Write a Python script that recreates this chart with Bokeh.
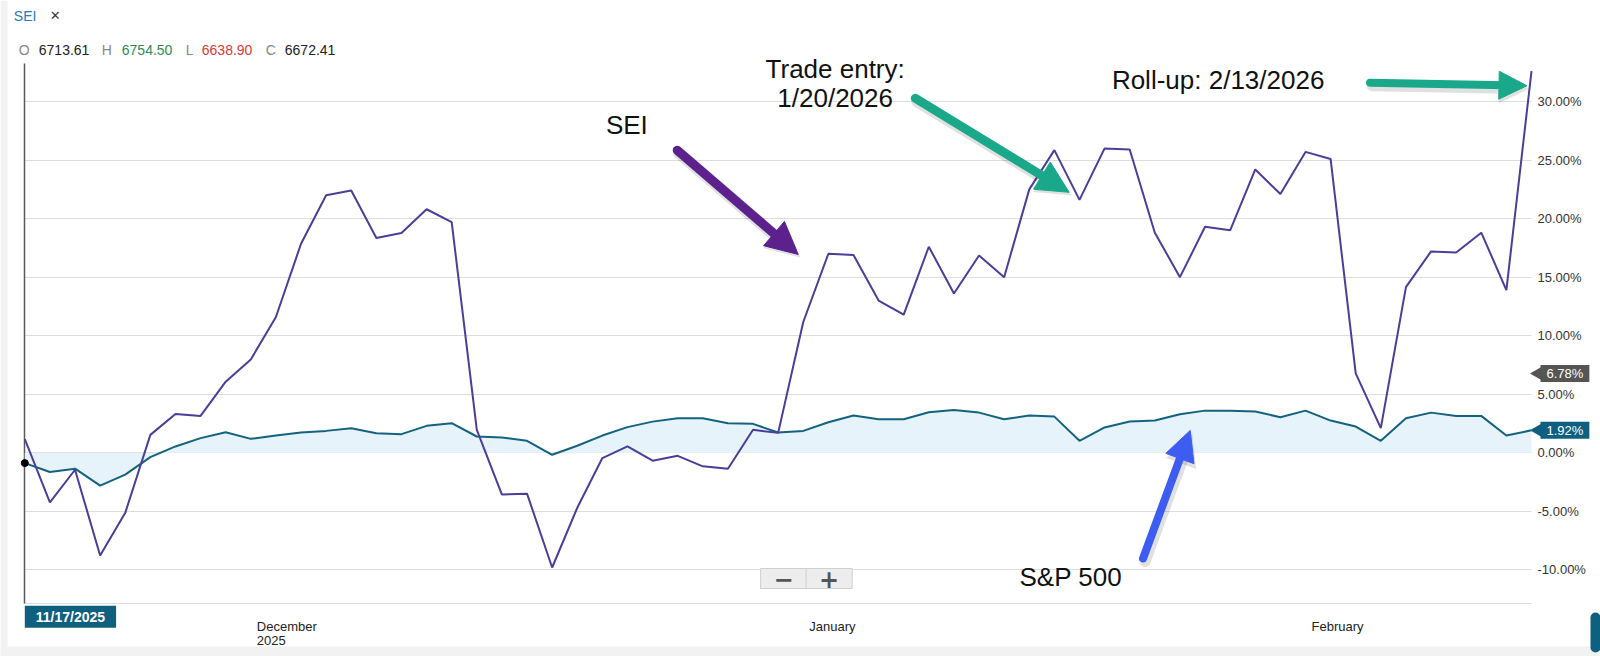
import math
from bokeh.plotting import figure
from bokeh.models import (Range1d, Grid, FixedTicker, Label, Arrow, NormalHead, BoxAnnotation)
from bokeh.embed import file_html
from bokeh.resources import INLINE

# ---------------- data (percent change since 11/17/2025, one value per trading day) -------------
sei = [1.17, -4.23, -1.45, -8.77, -5.13, 1.53, 3.32, 3.15, 6.07, 7.97,
       11.6, 17.85, 22.0, 22.4, 18.35, 18.78, 20.8, 19.7, 1.96, -3.57,
       -3.49, -9.8, -4.7, -0.45, 0.54, -0.68, -0.26, -1.16, -1.36, 1.96,
       1.7, 11.17, 17.0, 16.9, 13.0, 11.8, 17.6, 13.6, 16.85, 15.0,
       22.5, 25.85, 21.6, 26.0, 25.9, 18.8, 15.0, 19.3, 19.0, 24.2,
       22.1, 25.7, 25.1, 6.78, 2.1, 14.15, 17.2, 17.1, 18.8, 13.9,
       32.6]
sp500 = [-0.88, -1.64, -1.36, -2.81, -1.87, -0.37, 0.54, 1.25, 1.76, 1.19,
         1.47, 1.73, 1.87, 2.1, 1.67, 1.59, 2.3, 2.53, 1.39, 1.3,
         1.02, -0.17, 0.6, 1.47, 2.19, 2.66, 2.95, 2.95, 2.53, 2.47,
         1.73, 1.87, 2.61, 3.18, 2.87, 2.87, 3.46, 3.66, 3.43, 2.87,
         3.18, 3.09, 1.02, 2.16, 2.67, 2.75, 3.29, 3.6, 3.6, 3.52,
         3.04, 3.6, 2.75, 2.24, 1.02, 2.95, 3.43, 3.15, 3.15, 1.47,
         1.92]
idx = list(range(len(sei)))
baseline = [0.0] * len(sp500)

start_date = "11/17/2025"
month_ticks = [9, 31, 51]
month_labels = ["December", "January", "February"]
year_label = "2025"
y_ticks = [-10, -5, 0, 5, 10, 15, 20, 25, 30]
ohlc_keys = ["O", "H", "L", "C"]
ohlc_vals = ["6713.61", "6754.50", "6638.90", "6672.41"]
HOVER_IDX = 53

# ---------------- layout -------------
W, H = 1600, 656
PLOT_L, PLOT_R, PLOT_T, PLOT_B = 24.3, 1531.0, 63.0, 603.3   # plot area in pixels
X_MIN, X_MAX = 0, len(sei) - 1
Y_MIN, Y_MAX = -12.9, 33.25
SX = (PLOT_R - PLOT_L) / (X_MAX - X_MIN)
SY = (PLOT_B - PLOT_T) / (Y_MAX - Y_MIN)
x_range = Range1d(X_MIN - PLOT_L / SX, X_MAX + (W - PLOT_R) / SX)
y_range = Range1d(Y_MIN - (H - PLOT_B) / SY, Y_MAX + PLOT_T / SY)

FONT = "Liberation Sans"
SEI_C = "#4b3d98"
SP_C = "#13627f"
TEAL = "#0f5f80"

p = figure(width=W, height=H, x_range=x_range, y_range=y_range,
           x_axis_location=None, y_axis_location=None,
           output_backend="svg", toolbar_location=None, min_border=0)
p.outline_line_color = None
p.background_fill_color = "white"
p.border_fill_color = "white"
# drop the default grids, the chart's own lines are added below
p.center = [r for r in p.center if not isinstance(r, Grid)]

# side strips of the page
p.add_layout(BoxAnnotation(right=x_range.start + 7 / SX, fill_color="#f2f2f2", fill_alpha=1,
                           line_color=None, level="underlay"))
p.add_layout(BoxAnnotation(top=y_range.start + 10 / SY, fill_color="#f2f2f2", fill_alpha=1,
                           line_color=None, level="underlay"))

# grid lines, bottom line and left axis line
p.add_layout(Grid(dimension=1, ticker=FixedTicker(ticks=y_ticks), cross_bounds=(X_MIN, X_MAX),
                  grid_line_color="#dddddd", grid_line_width=1))
p.add_layout(Grid(dimension=1, ticker=FixedTicker(ticks=[Y_MIN]), cross_bounds=(X_MIN, X_MAX),
                  grid_line_color="#dcdcdc", grid_line_width=1))
p.add_layout(Grid(dimension=0, ticker=FixedTicker(ticks=[X_MIN]), cross_bounds=(Y_MIN, Y_MAX),
                  grid_line_color="#5a5a5a", grid_line_width=1.5))

# series
p.varea(x=idx, y1=baseline, y2=sp500, fill_color="#e6f3fa")
p.line(idx, sp500, line_color=SP_C, line_width=2)
p.line(idx, sei, line_color=SEI_C, line_width=2)
p.scatter([idx[0]], [sp500[0]], size=7, color="black")


# arrows (shaft stops at the base of the head)
def arrow(x0, y0, x1, y1, c, w, hs):
    dxp, dyp = (x1 - x0) * SX, (y1 - y0) * SY
    L = math.hypot(dxp, dyp)
    ux, uy = dxp / L, dyp / L
    bx, by = x1 - ux * hs * 0.75 / SX, y1 - uy * hs * 0.75 / SY
    ox, oy = 2 / SX, -3 / SY  # soft shadow
    p.add_layout(Arrow(end=None, x_start=x0 + ox, y_start=y0 + oy, x_end=bx + ox, y_end=by + oy,
                       line_color="black", line_alpha=0.12, line_width=w + 3, line_cap="round"))
    p.add_layout(Arrow(end=NormalHead(size=hs + 2, fill_color="black", fill_alpha=0.12, line_color=None),
                       x_start=bx + ox, y_start=by + oy, x_end=x1 + ox, y_end=y1 + oy, line_color=None))
    p.add_layout(Arrow(end=None, x_start=x0, y_start=y0, x_end=bx, y_end=by,
                       line_color=c, line_width=w, line_cap="round"))
    p.add_layout(Arrow(end=NormalHead(size=hs, fill_color=c, line_color=c, line_width=1),
                       x_start=bx, y_start=by, x_end=x1, y_end=y1, line_color=None))


arrow(25.98, 25.84, 30.80, 16.94, "#5c218d", 9, 32)
arrow(35.46, 30.28, 41.59, 22.25, "#19a98a", 9, 32)
arrow(53.57, 31.61, 59.82, 31.35, "#19a98a", 8, 28)
arrow(44.53, -9.03, 46.41, 1.91, "#3c5cf2", 8, 30)


def lab(text, x, y, size="26px", color="#111111", align="left", baseline="alphabetic",
        xo=0, yo=0, font=FONT, style="normal", **kw):
    p.add_layout(Label(text=text, x=x, y=y, x_offset=xo, y_offset=yo,
                       text_font=font, text_font_size=size, text_color=color,
                       text_align=align, text_baseline=baseline, text_font_style=style, **kw))


# right-hand percent labels
for t in y_ticks:
    lab(f"{t:.2f}%", X_MAX, t, size="13px", color="#333333", baseline="middle", xo=6)

# annotations
lab("SEI", 23.14, 27.98)
lab("Trade entry:", 32.27, 32.74, align="center")
lab("1/20/2026", 32.27, 30.27, align="center")
lab("Roll-up: 2/13/2026", 43.29, 31.82)
lab("S&P 500", 39.61, -10.57)

# zoom buttons
for txt, bx in (("\u2212", 30.22), ("+", 32.03)):
    lab(txt, bx, -10.74, size="24px", color="#555555", align="center", baseline="middle",
        font="DejaVu Sans", style="bold", background_fill_color="#ededed",
        border_line_color="#cfcfcf", padding=(13, 1))

# header
lab("SEI", X_MIN, Y_MAX, size="14px", color="#2b7bb0", baseline="middle", xo=-11, yo=48)
lab("\u2715", X_MIN, Y_MAX, size="13px", color="#3a3a3a", baseline="middle", xo=25, yo=48,
    font="DejaVu Sans", style="bold")
key_off = [-6, 77, 161, 241]
val_off = [14, 97, 177, 260]
val_col = ["#222222", "#2e8a57", "#d9393c", "#222222"]
for k, v, ko, vo, vc in zip(ohlc_keys, ohlc_vals, key_off, val_off, val_col):
    lab(k, X_MIN, Y_MAX, size="14px", color="#888888", baseline="middle", xo=ko, yo=14)
    lab(v, X_MIN, Y_MAX, size="14px", color=vc, baseline="middle", xo=vo, yo=14)

# x-axis labels
for t, m in zip(month_ticks, month_labels):
    lab(m, t, Y_MIN, size="13px", color="#222222", xo=6, yo=-23)
lab(year_label, month_ticks[0], Y_MIN, size="13px", color="#222222", xo=6, yo=-37)
lab(start_date, X_MIN, Y_MIN, size="14px", color="white", baseline="top", yo=-2,
    style="bold", background_fill_color=TEAL, padding=(11, 3))

# value tags on the right (box + pointer)
tag_vals = [sei[HOVER_IDX], sp500[-1]]
tag_cols = ["#555555", TEAL]
for v, c in zip(tag_vals, tag_cols):
    lab(f"{v:.2f}%", X_MAX, v, size="13px", color="white",
        baseline="middle", xo=9, background_fill_color=c, padding=(6, 1))
p.scatter([X_MAX + 6 / SX] * 2, tag_vals, marker="triangle", angle=math.pi / 2,
          size=13, color=tag_cols, line_color=None)

# small tab at the bottom-right edge
p.add_layout(BoxAnnotation(left=x_range.end - 10 / SX, bottom=y_range.start + 4 / SY,
                           top=y_range.start + 44 / SY, fill_color=TEAL, fill_alpha=1,
                           line_color=None, border_radius=6))

open("out.html", "w").write(file_html(p, INLINE))
